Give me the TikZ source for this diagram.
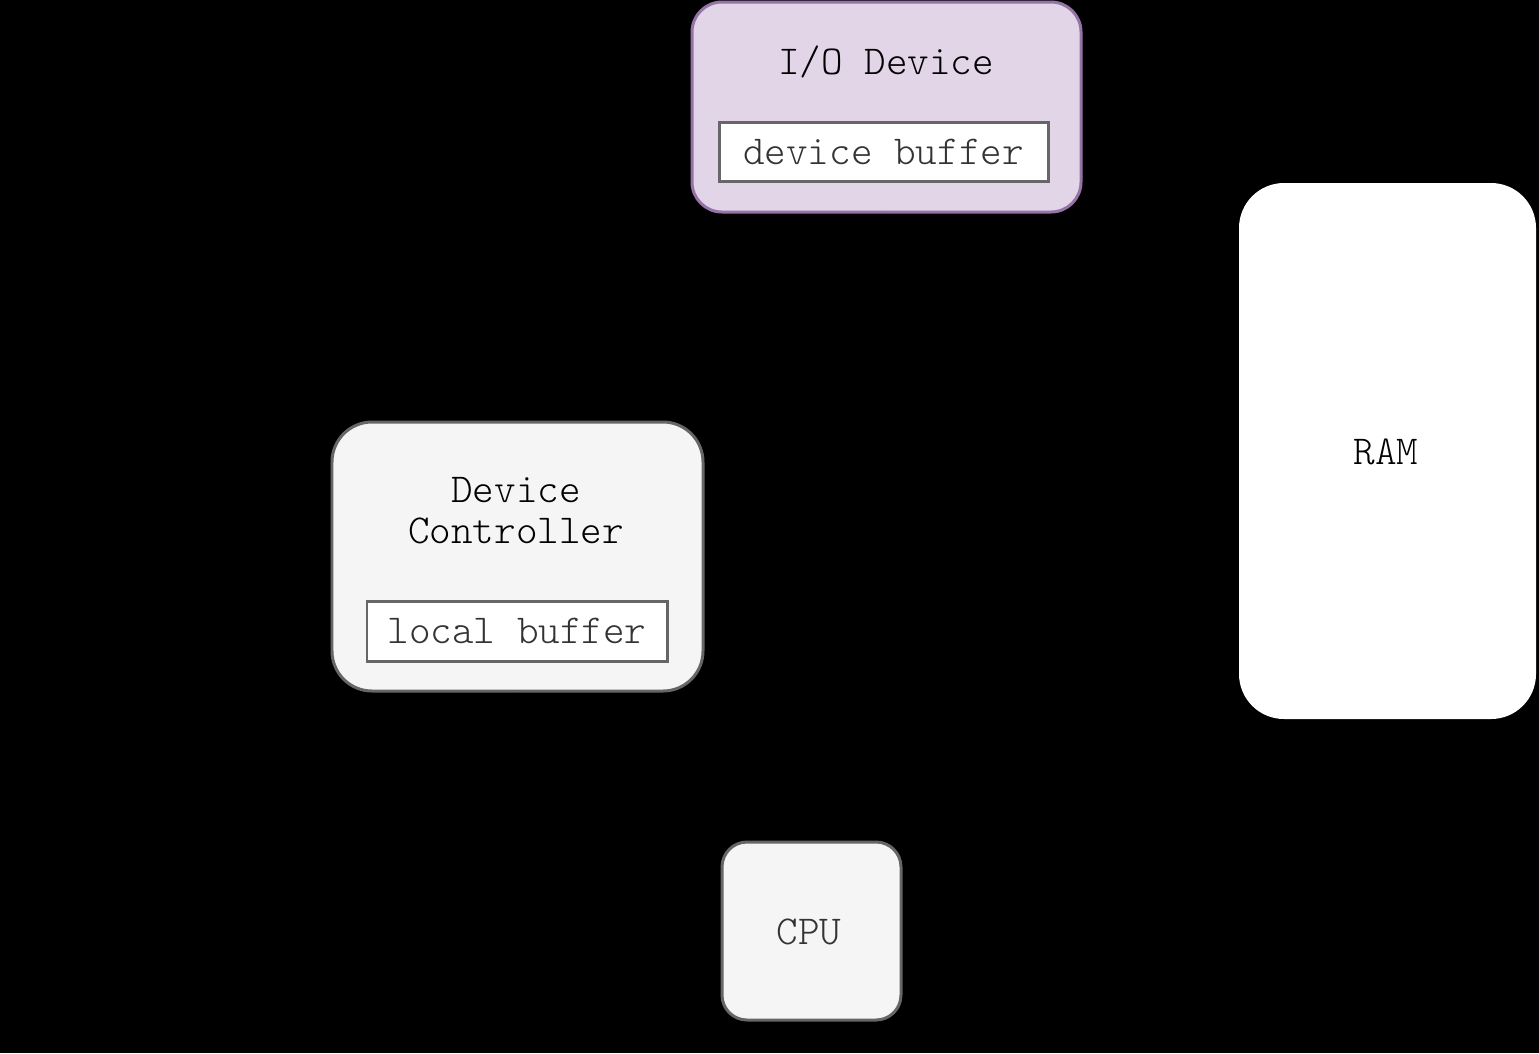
\documentclass[tikz,border=0pt]{standalone}
\usetikzlibrary{arrows.meta}
\definecolor{iofill}{HTML}{E1D5E7}
\definecolor{iodraw}{HTML}{9673A6}
\definecolor{boxfill}{HTML}{F5F5F5}
\definecolor{boxdraw}{HTML}{666666}
\definecolor{cputext}{HTML}{333333}
\tikzset{
  lbl/.style={font=\ttfamily\fontseries{l}\fontsize{23.4}{23.3}\selectfont, align=center, inner sep=0pt},
  unit/.style={draw=boxdraw, fill=boxfill, line width=1.7pt},
  buf/.style={draw=boxdraw, fill=white, line width=1.7pt, minimum width=#1, minimum height=1.2cm, inner sep=0pt},
  conn/.style={draw=black, line width=1.7pt, -{Latex[length=4mm]}}
}
\begin{document}
\begin{tikzpicture}
    % Background and bounds
    \fill[black] (0,0) rectangle (30.78,-21.06);
    \useasboundingbox (0,0) rectangle (30.78,-21.06);

    % I/O device
    \node[draw=iodraw, fill=iofill, line width=1.7pt, rounded corners=0.6cm,
          minimum width=7.78cm, minimum height=4.2cm] (iodev) at (17.73,-2.14) {};
    \node[lbl] (iotitle) at (17.72,-1.24) {I/O Device};
    \node[buf=6.58cm, text=cputext, lbl, minimum width=6.58cm, minimum height=1.18cm] (devbuf) at (17.67,-3.03) {device buffer};

    % Device controller
    \node[unit, rounded corners=0.8cm, minimum width=7.42cm, minimum height=5.38cm] (devctl) at (10.35,-11.13) {};
    \node[lbl] (ctltitle) at (10.32,-10.22) {Device\\Controller};
    \node[buf=6cm, text=cputext, lbl, minimum width=6cm, minimum height=1.2cm] (locbuf) at (10.34,-12.62) {local buffer};

    % RAM
    \node[fill=white, rounded corners=0.9cm, minimum width=5.94cm, minimum height=10.72cm] (ram) at (27.75,-9.02) {};
    \node[lbl] (ramtext) at (27.72,-9.04) {RAM};

    % CPU
    \node[unit, rounded corners=0.5cm, minimum width=3.58cm, minimum height=3.56cm] (cpu) at (16.23,-18.62) {};
    \node[lbl, text=cputext] (cputitle) at (16.18,-18.64) {CPU};

    % Connectors (drawn in black)
    \draw[conn] (iodev.south) |- ++(-6.5,-2.2) -| ([xshift=0.8cm]devctl.north);
    \draw[conn] (devctl.east) -- ++(1.5,0) |- (ram.west);
    \draw[conn] (devctl.south) |- (cpu.west);
    \draw[conn] (cpu.east) -| (ram.south);
\end{tikzpicture}
\end{document}
